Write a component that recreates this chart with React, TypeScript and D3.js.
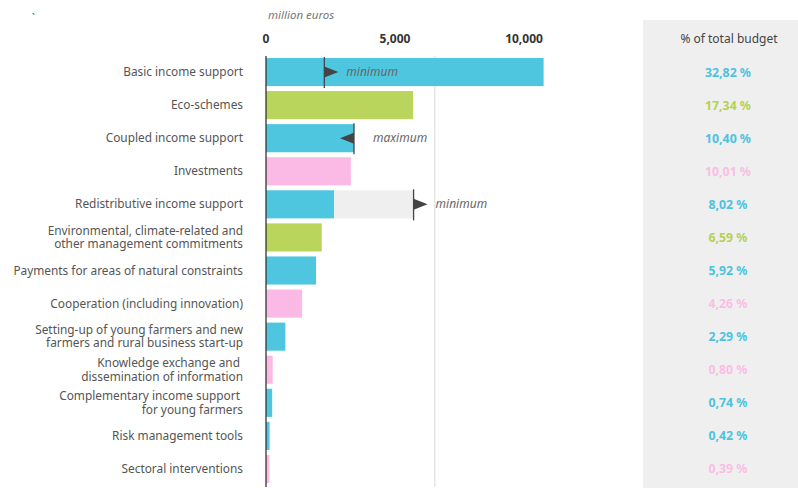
import React from "react";
import * as d3 from "d3";

const categories: string[][] = [
  ["Basic income support"],
  ["Eco-schemes"],
  ["Coupled income support"],
  ["Investments"],
  ["Redistributive income support"],
  ["Environmental, climate-related and", "other management commitments"],
  ["Payments for areas of natural constraints"],
  ["Cooperation (including innovation)"],
  ["Setting-up of young farmers and new", "farmers and rural business start-up"],
  ["Knowledge exchange and\u00a0", "dissemination of information"],
  ["Complementary income support\u00a0", "for young farmers"],
  ["Risk management tools"],
  ["Sectoral interventions"],
];
const values: number[] = [10760, 5700, 3410, 3290, 2640, 2160, 1940, 1400, 750, 260, 240, 140, 130];
const groups: string[] = ["blue", "green", "blue", "pink", "blue", "green", "blue", "pink", "blue", "pink", "blue", "blue", "pink"];
const shares: string[] = ["32,82 %", "17,34 %", "10,40 %", "10,01 %", "8,02 %", "6,59 %", "5,92 %", "4,26 %", "2,29 %", "0,80 %", "0,74 %", "0,42 %", "0,39 %"];
const ticks: number[] = [0, 5000, 10000];
const referenceLine: number[] = [6540];
// markers: row index, value, direction, label
const markerRows: number[] = [0, 2, 4];
const markerValues: number[] = [2260, 3410, 5720];
const markerDirs: string[] = ["right", "left", "right"];
const markerLabels: string[] = ["minimum", "maximum", "minimum"];
const rangeRows: number[] = [4];

const colors: Record<string, string> = { blue: "#4fc6df", green: "#b9d55b", pink: "#fbb9e6" };
const textColors: Record<string, string> = { blue: "#4cc3de", green: "#b5d152", pink: "#fbbde6" };

const W = 798;
const H = 488;
const font = "'Noto Sans', 'Open Sans', sans-serif";

export default function App() {
  const x = d3.scaleLinear().domain([0, 10000]).range([266, 524]);
  const y = d3
    .scaleBand<number>()
    .domain(d3.range(categories.length))
    .range([55.5, 485.5])
    .paddingInner(0.15)
    .paddingOuter(0.075);
  const bw = y.bandwidth();
  const cy = (i: number) => (y(i) as number) + bw / 2;

  return (
    <svg width={W} height={H} style={{ position: "absolute", left: 0, top: 0, background: "#fff" }}>
      <rect x={643} y={20} width={W - 643} height={H - 20} fill="#efefef" />
      <text x={32} y={22} fontSize={10} fill="#555" fontFamily={font}>`</text>
      <text x={268} y={19} fontSize={11.5} fontStyle="italic" fill="#777" fontFamily={font}>
        million euros
      </text>
      {ticks.map((t) => (
        <text key={t} x={x(t)} y={43} textAnchor="middle" fontSize={12} fontWeight="bold" fill="#333" fontFamily={font}>
          {d3.format(",")(t)}
        </text>
      ))}
      {referenceLine.map((v) => (
        <line key={v} x1={x(v)} x2={x(v)} y1={56} y2={487} stroke="#e4e4e4" strokeWidth={1.5} />
      ))}
      {values.map((v, i) => (
        <rect key={i} x={x(0)} y={y(i)} width={x(v) - x(0)} height={bw} fill={colors[groups[i]]} />
      ))}
      {rangeRows.map((r) => {
        const k = markerRows.indexOf(r);
        return (
          <rect key={"rg" + r} x={x(values[r])} y={y(r)} width={x(markerValues[k]) - x(values[r])} height={bw} fill="#efefef" />
        );
      })}
      {markerRows.map((r, k) => {
        const mx = x(markerValues[k]);
        const c = cy(r);
        const d = markerDirs[k] === "right" ? 1 : -1;
        const tri = `M${mx},${c - 5.5}L${mx + d * 14},${c}L${mx},${c + 5.5}Z`;
        const labelX = markerDirs[k] === "right" ? mx + 22 : mx + 19;
        return (
          <g key={"m" + k}>
            <line x1={mx} x2={mx} y1={(y(r) as number) - 1} y2={(y(r) as number) + bw + 2} stroke="#444" strokeWidth={1.3} />
            <path d={tri} fill="#444" />
            <text x={labelX} y={c + 4} fontSize={12} fontStyle="italic" fill="#666" fontFamily={font}>
              {markerLabels[k]}
            </text>
          </g>
        );
      })}
      <line x1={x(0)} x2={x(0)} y1={56} y2={487} stroke="#333" strokeWidth={1.3} />
      {categories.map((lines, i) => (
        <text key={"l" + i} x={243} textAnchor="end" fontSize={11.85} fill="#555" fontFamily={font}>
          {lines.map((ln, j) => (
            <tspan key={j} x={243} y={cy(i) + 4 + (j - (lines.length - 1) / 2) * 13.6}>
              {ln}
            </tspan>
          ))}
        </text>
      ))}
      <text x={729} y={43} textAnchor="middle" fontSize={12} fill="#444" fontFamily={font}>
        % of total budget
      </text>
      {shares.map((s, i) => (
        <text key={"s" + i} x={728} y={cy(i) + 4.5} textAnchor="middle" fontSize={12.3} fontWeight="bold" fill={textColors[groups[i]]} fontFamily={font}>
          {s}
        </text>
      ))}
    </svg>
  );
}
